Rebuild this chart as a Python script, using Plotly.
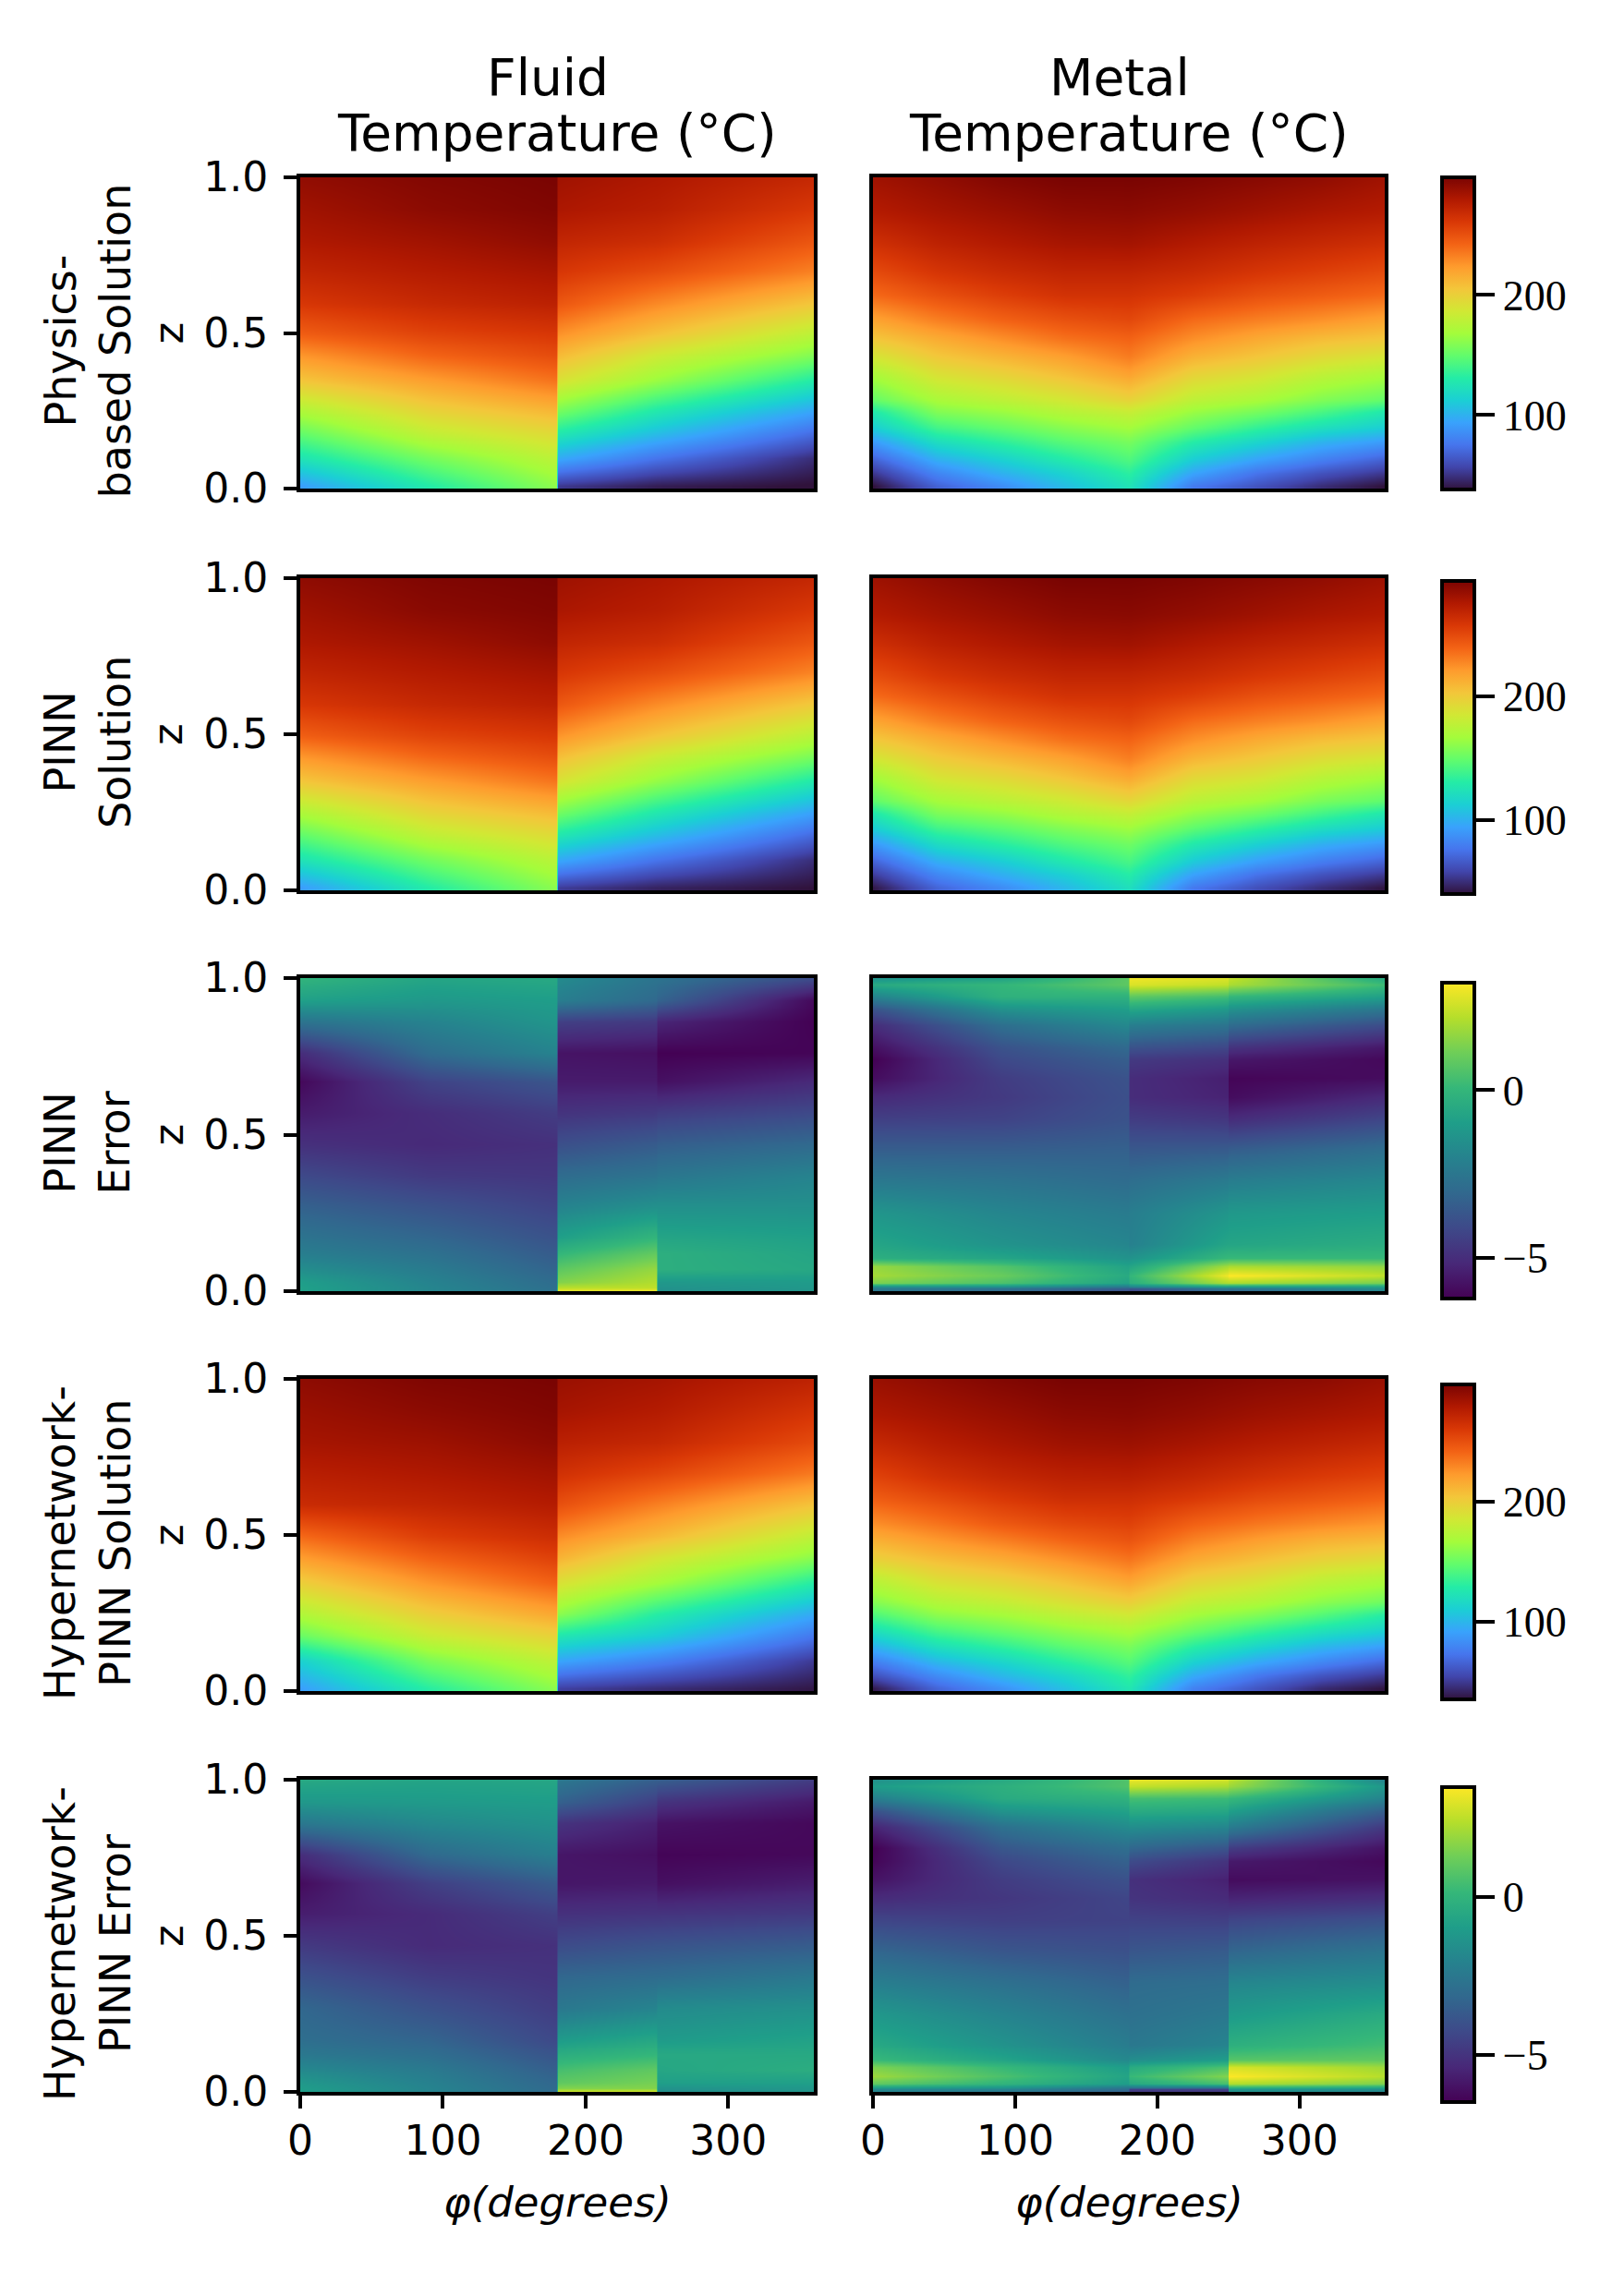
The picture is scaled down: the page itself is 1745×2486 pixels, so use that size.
import plotly.graph_objects as go

W, H = 1745, 2486

# ---- coordinates of the sampled values ----
PHI_FLUID = [0, 90, 179.5, 180.5, 250, 360]
Z_FLUID = [.995, .896, .796, .697, .597, .498, .428, .348, .249, .179, .099, .01]
PHI_METAL = [0, 45, 90, 135, 180, 225, 270, 315, 360]
Z_METAL = [.995, .886, .788, .69, .62, .542, .483, .424, .365, .286, .246, .197, .148, .089, .049, .01]
PHI_ERR = [0, 90, 179.5, 180.5, 249.5, 250.5, 360]
Z_FLUID_ERR = [0, .012, .03, .07, .12, .17, .27, .37, .47, .57, .67, .76, .86, .93, 1]
Z_METAL_ERR = [0, .008, .015, .028, .05, .08, .105, .15, .25, .35, .45, .55, .62, .68, .74, .78, .85, .9, .94, .98, 1]

# ---- solution values: one inner list per phi column, top (z~1) to bottom (z~0) ----
FLUID_PHYSICS = [
    [290, 285, 280, 272, 262, 245, 225, 205, 172, 150, 125, 92],
    [295, 292, 285, 278, 270, 256, 242, 222, 198, 180, 155, 130],
    [298, 296, 291, 283, 275, 262, 252, 237, 212, 195, 178, 162],
    [285, 281, 272, 262, 248, 227, 210, 190, 155, 128, 97, 52],
    [280, 276, 267, 252, 230, 207, 185, 165, 128, 105, 75, 42],
    [270, 261, 248, 232, 205, 178, 158, 130, 95, 72, 48, 37],
]
METAL_PHYSICS = [
    [285, 278, 266, 252, 240, 220, 205, 188, 170, 150, 128, 112, 90, 66, 52, 38],
    [290, 283, 274, 262, 250, 233, 217, 204, 190, 170, 158, 140, 120, 97, 82, 68],
    [295, 287, 279, 268, 258, 243, 228, 213, 198, 178, 165, 150, 133, 112, 100, 85],
    [298, 291, 283, 272, 264, 250, 238, 222, 208, 187, 175, 160, 146, 128, 115, 105],
    [298, 292, 284, 272, 264, 254, 243, 234, 220, 198, 182, 168, 155, 143, 133, 125],
    [296, 289, 279, 268, 258, 240, 228, 214, 198, 178, 165, 150, 130, 110, 95, 78],
    [293, 285, 274, 262, 250, 233, 218, 205, 190, 170, 155, 135, 115, 92, 75, 62],
    [290, 281, 270, 257, 245, 227, 210, 195, 178, 158, 142, 122, 100, 78, 62, 48],
    [285, 278, 266, 252, 240, 220, 205, 188, 170, 150, 128, 112, 90, 66, 52, 38],
]
FLUID_PINN = [
    [286, 281, 276, 268, 258, 241, 222, 202, 170, 148, 124, 92],
    [291, 288, 281, 274, 266, 252, 238, 219, 195, 177, 153, 130],
    [293, 291, 287, 279, 271, 258, 248, 233, 208, 192, 175, 160],
    [281, 277, 268, 258, 244, 223, 206, 187, 153, 127, 97, 55],
    [276, 272, 263, 248, 226, 203, 182, 162, 127, 105, 76, 46],
    [266, 257, 244, 228, 201, 175, 155, 128, 94, 72, 50, 40],
]
METAL_PINN = [
    [281, 274, 262, 248, 236, 216, 201, 185, 167, 148, 127, 111, 90, 68, 55, 42],
    [286, 279, 270, 258, 246, 229, 213, 200, 187, 167, 155, 138, 119, 97, 83, 70],
    [290, 283, 275, 264, 254, 239, 224, 209, 194, 175, 162, 147, 131, 110, 99, 85],
    [293, 287, 279, 268, 260, 246, 234, 218, 204, 183, 172, 157, 143, 126, 113, 103],
    [293, 288, 280, 268, 260, 250, 239, 230, 216, 194, 179, 165, 152, 140, 130, 122],
    [291, 285, 275, 264, 254, 236, 224, 210, 194, 175, 162, 147, 128, 109, 94, 78],
    [288, 281, 270, 258, 246, 229, 214, 201, 187, 167, 152, 133, 113, 91, 75, 62],
    [285, 277, 266, 253, 241, 223, 206, 191, 175, 155, 139, 120, 99, 78, 63, 50],
    [281, 274, 262, 248, 236, 216, 201, 185, 167, 148, 127, 111, 90, 68, 54, 41],
]
FLUID_HYPER = [
    [291, 287, 283, 276, 268, 240, 222, 200, 172, 150, 112, 90],
    [296, 292, 286, 280, 272, 258, 243, 225, 200, 182, 155, 130],
    [298, 296, 292, 285, 278, 267, 257, 243, 218, 198, 178, 160],
    [287, 283, 275, 265, 250, 228, 213, 190, 160, 125, 93, 52],
    [283, 278, 270, 255, 232, 210, 188, 168, 130, 110, 78, 45],
    [273, 263, 252, 234, 205, 178, 160, 130, 95, 74, 50, 37],
]
METAL_HYPER = [
    [287, 280, 269, 256, 245, 228, 213, 198, 178, 158, 142, 122, 100, 74, 58, 38],
    [291, 284, 276, 265, 253, 237, 223, 208, 193, 173, 160, 142, 122, 98, 82, 66],
    [295, 288, 281, 271, 261, 247, 232, 216, 200, 180, 167, 152, 134, 112, 100, 84],
    [298, 292, 285, 275, 267, 254, 241, 226, 210, 190, 177, 162, 147, 128, 115, 104],
    [298, 293, 286, 276, 267, 257, 248, 236, 222, 200, 185, 170, 156, 143, 133, 125],
    [296, 290, 282, 271, 261, 244, 231, 217, 201, 180, 167, 152, 132, 110, 95, 78],
    [293, 286, 277, 265, 253, 236, 221, 207, 192, 172, 157, 137, 116, 92, 74, 60],
    [291, 283, 273, 260, 248, 230, 213, 198, 180, 160, 144, 124, 102, 78, 60, 44],
    [287, 280, 269, 256, 243, 225, 209, 192, 173, 152, 130, 114, 92, 66, 50, 36],
]
# ---- error values: one inner list per phi column, bottom (z=0) to top (z=1) ----
FLUID_PINN_ERR = [
    [-.9, -.9, -1, -1.6, -2.2, -2.6, -3.3, -4.1, -4.9, -5.5, -6, -5, -2.6, -.9, -.1],
    [-1.9, -1.9, -2, -2.3, -2.7, -3.1, -3.8, -4.6, -5.1, -5, -4.3, -2.9, -2, -1.2, -.7],
    [-2.7, -2.8, -2.9, -3.2, -3.5, -3.8, -4.3, -4.7, -4.9, -4.5, -3.7, -2, -1.3, -1, -.55],
    [3, 2.2, 1.4, .8, 0, -.9, -2, -2.9, -3.9, -4.8, -5.5, -5.7, -4.4, -2.2, -1.7],
    [3.1, 2.3, 2.1, 1.7, .9, 0, -1.5, -2.6, -3.5, -4.6, -5.5, -5.8, -4.6, -3, -2.6],
    [-1.5, -1.4, -1.2, -.3, -.3, -.7, -1.5, -2.5, -3.4, -4.5, -5.8, -6.2, -5.2, -3.2, -2.6],
    [-1.3, -1.2, -1.1, -.6, -.7, -.9, -1.5, -2, -3, -4.1, -5.1, -6.1, -6.2, -6, -4],
]
METAL_PINN_ERR = [
    [-2.5, -2.3, -1.5, 1.3, 1.9, 1.7, -.3, -.7, -1.3, -2.4, -3.4, -4.4, -5.1, -5.9, -6.2, -5.8, -5, -3.8, -2, -.5, -1.4],
    [-3, -2.6, -1.5, .5, 1, .6, -.7, -1.4, -1.9, -2.6, -3.4, -4.3, -4.6, -4.5, -4.1, -3.8, -2.8, -1.5, -.2, 0, -.8],
    [-4, -3.4, -2.4, -.8, -.5, -.8, -1.4, -1.9, -2.3, -2.9, -3.3, -3.8, -3.9, -3.8, -3.4, -3, -1.8, -1, -.2, .8, .8],
    [-4.5, -3.6, -2, -.3, 0, -.7, -1.4, -2.1, -2.2, -2.8, -3.6, -4.5, -5, -5, -4.6, -3.8, -2.2, -.7, .8, 2.7, 3],
    [-3, -2.5, -1, 2, 3, 1.9, .1, -.7, -1.3, -2.3, -3.5, -4.7, -5.3, -5.4, -4.9, -4.2, -2.6, -1.2, .3, 2.3, 2.7],
    [-3.2, -2.6, -1.1, 2, 3.2, 2, .1, -.7, -1.2, -2.2, -3.4, -5, -5.9, -6.1, -5.6, -4.8, -2.9, -1.5, 0, 2, 2.4],
    [-2, -1.6, -.9, 1.2, 2.3, 1.6, .1, -.4, -1, -1.8, -2.8, -4.2, -5.1, -5.9, -6, -5.6, -4, -2.5, -.9, .2, -.5],
]
FLUID_HYPER_ERR = [
    [-.9, -1, -1.2, -1.8, -2.5, -2.9, -3.2, -4, -4.8, -5.7, -6.2, -5.2, -2.5, -1.2, -.5],
    [-2, -2, -2.1, -2.4, -2.9, -3.3, -4, -4.7, -5.3, -5.3, -4.6, -3.1, -1.8, -1.1, -.7],
    [-3, -3.1, -3.2, -3.5, -3.9, -4.3, -4.7, -5, -5.1, -4.6, -3.6, -2.2, -1.4, -1, -.6],
    [3, 1.6, 1, .5, -.3, -1.1, -2.5, -3.2, -4.2, -5.1, -5.9, -5.9, -5, -3.4, -2.5],
    [3, 1.6, 1.4, 1, .1, -.6, -2, -3, -3.9, -5, -5.8, -6.1, -5.6, -4.6, -3.5],
    [-1.6, -1.4, -.9, -.6, -.5, -1.1, -1.7, -3, -3.9, -5, -6.1, -6.4, -6, -5, -3.5],
    [-1.3, -1.2, -.9, -.3, -.5, -.8, -1.5, -2.5, -3.6, -4.8, -5.7, -6.3, -6.3, -5.8, -4.7],
]
METAL_HYPER_ERR = [
    [-2, -1.8, -.8, 1, 2, 1.5, .2, -.5, -1.2, -2.2, -3.2, -4.4, -5.3, -6, -6.4, -6.5, -5.5, -4, -2.2, -1, -1.5],
    [-2.6, -2, -1.2, 0, .6, .2, -.7, -1.4, -2, -2.8, -3.8, -4.6, -4.9, -4.7, -4.3, -3.8, -2.8, -1.4, -.4, -.2, -.5],
    [-3.5, -3, -2.4, -1, -.7, -1, -1.8, -2.3, -2.8, -3.4, -4, -4.5, -4.4, -4, -3.4, -2.9, -1.7, -.8, -.1, .7, .7],
    [-5, -4.5, -2.5, -.5, .2, -.4, -1.6, -2.5, -2.8, -3, -3.8, -4.5, -5, -5.1, -4.2, -3.2, -1.6, -.4, .5, 2.6, 3.2],
    [-5, -4.5, -2.5, .5, 1.6, .6, -1, -2, -2.5, -2.9, -3.6, -4.6, -5.3, -5.6, -5, -3.9, -1.9, -.6, .3, 2.2, 2.8],
    [-1.5, -1.3, 0, 2.3, 3.5, 2.9, .8, -.2, -1.1, -1.9, -3.2, -4.4, -5.5, -6.2, -5.8, -4.7, -2.3, -.9, .2, 2, 2.5],
    [-2, -1.5, -.5, 1.5, 2.4, 2, 1, .4, -.4, -1.6, -2.6, -4, -5.2, -6, -6.3, -6, -4.8, -3.5, -2, -1.2, -2],
]

# ---- labels ----
COLUMN_TITLES = [("Fluid", "Temperature (°C)"), ("Metal", "Temperature (°C)")]
ROW_LABELS = ["Physics-<br>based Solution", "PINN<br>Solution", "PINN<br>Error",
              "Hypernetwork-<br>PINN Solution", "Hypernetwork-<br>PINN Error"]
X_TICKS = [0, 100, 200, 300]
Y_TICKS = [0, 0.5, 1]
BAR_RANGES = [(38, 298), (40, 293), (-6.2, 3.2), (35, 298), (-6.5, 3.5)]
BAR_TICKS = [[100, 200], [100, 200], [-5, 0], [100, 200], [-5, 0]]

# ---- layout (pixels, measured inside the 8 px page margin) ----
COL_X = [(317, 873), (937, 1491)]
ROW_Y = [(184, 521), (618, 956), (1051, 1390), (1485, 1823), (1919, 2257)]
BAR_Y = [(184, 522), (621, 960), (1056, 1398), (1491, 1832), (1927, 2268)]
SANS, SERIF = "DejaVu Sans", "Liberation Serif"


def grid(cols):
    return [list(r) for r in zip(*cols)]


def topdown(cols):
    """Solution tables are listed top to bottom: flip them for the ascending z axis."""
    return grid(cols)[::-1]


panels = [
    (topdown(FLUID_PHYSICS), PHI_FLUID, Z_FLUID[::-1], topdown(METAL_PHYSICS), PHI_METAL, Z_METAL[::-1]),
    (topdown(FLUID_PINN), PHI_FLUID, Z_FLUID[::-1], topdown(METAL_PINN), PHI_METAL, Z_METAL[::-1]),
    (grid(FLUID_PINN_ERR), PHI_ERR, Z_FLUID_ERR, grid(METAL_PINN_ERR), PHI_ERR, Z_METAL_ERR),
    (topdown(FLUID_HYPER), PHI_FLUID, Z_FLUID[::-1], topdown(METAL_HYPER), PHI_METAL, Z_METAL[::-1]),
    (grid(FLUID_HYPER_ERR), PHI_ERR, Z_FLUID_ERR, grid(METAL_HYPER_ERR), PHI_ERR, Z_METAL_ERR),
]

fig = go.Figure()
layout = dict(
    width=W, height=H, margin=dict(l=0, r=0, t=0, b=0, autoexpand=False), autosize=False,
    paper_bgcolor="white", plot_bgcolor="white", showlegend=False,
    font=dict(family=SANS, size=44, color="black"),
)
annotations = []
n = 0
for r, (zf, xf, yf, zm, xm, ym) in enumerate(panels):
    ca = "coloraxis" if r == 0 else f"coloraxis{r + 1}"
    y0, y1 = ROW_Y[r]
    b0, b1 = BAR_Y[r]
    cmin, cmax = BAR_RANGES[r]
    layout[ca] = dict(
        cmin=cmin, cmax=cmax,
        colorscale="Turbo" if r not in (2, 4) else "Viridis",
        colorbar=dict(
            x=1553 / W, xanchor="left", xpad=0, ypad=0,
            y=1 - b0 / H, yanchor="top", len=b1 - b0, lenmode="pixels",
            thickness=35, thicknessmode="pixels",
            outlinewidth=4, outlinecolor="black",
            ticks="outside", ticklen=20, tickwidth=4, tickcolor="black",
            tickvals=BAR_TICKS[r], tickfont=dict(family=SERIF, size=46, color="black"),
        ),
    )
    for c, (z, x, y) in enumerate(((zf, xf, yf), (zm, xm, ym))):
        n += 1
        sfx = "" if n == 1 else str(n)
        fig.add_trace(go.Heatmap(
            x=x, y=y, z=z, coloraxis=ca, zsmooth="best",
            xaxis=f"x{sfx}", yaxis=f"y{sfx}", hoverinfo="skip",
        ))
        x0, x1 = COL_X[c]
        last = r == len(panels) - 1
        layout[f"xaxis{sfx}"] = dict(
            domain=[x0 / W, x1 / W], range=[0, 360], anchor=f"y{sfx}",
            showline=True, mirror=True, linecolor="black", linewidth=4,
            showgrid=False, zeroline=False,
            ticks="outside" if last else "", ticklen=14, tickwidth=4, tickcolor="black",
            tickvals=X_TICKS if last else [], showticklabels=last,
            ticklabelstandoff=-3,
            tickfont=dict(family=SANS, size=44, color="black"),
        )
        layout[f"yaxis{sfx}"] = dict(
            domain=[1 - y1 / H, 1 - y0 / H], range=[0, 1], anchor=f"x{sfx}",
            showline=True, mirror=True, linecolor="black", linewidth=4,
            showgrid=False, zeroline=False,
            ticks="outside" if c == 0 else "", ticklen=14, tickwidth=4, tickcolor="black",
            tickvals=Y_TICKS if c == 0 else [], tickformat=".1f", showticklabels=c == 0,
            ticklabelstandoff=8,
            tickfont=dict(family=SANS, size=44, color="black"),
        )
    annotations.append(dict(
        text=ROW_LABELS[r], x=87 / W, y=1 - ((y0 + y1) / 2 + 9) / H, xref="paper", yref="paper",
        showarrow=False, textangle=-90, font=dict(family=SANS, size=46, color="black"),
        xanchor="center", yanchor="middle", align="center",
    ))
    annotations.append(dict(
        text="z", x=174 / W, y=1 - (y0 + y1) / 2 / H, xref="paper", yref="paper",
        showarrow=False, textangle=-90, font=dict(family=SANS, size=45, color="black"),
        xanchor="center", yanchor="middle",
    ))

for c, (line1, line2) in enumerate(COLUMN_TITLES):
    x0, x1 = COL_X[c]
    for text, ypx, dx in ((line1, 76, -10), (line2, 136, 0)):
        annotations.append(dict(
            text=text, x=((x0 + x1) / 2 + dx) / W, y=1 - ypx / H, xref="paper", yref="paper",
            showarrow=False, font=dict(family=SANS, size=55, color="black"),
            xanchor="center", yanchor="middle",
        ))
    annotations.append(dict(
        text="<i>φ(degrees)</i>", x=(x0 + x1) / 2 / W, y=1 - 2376 / H, xref="paper", yref="paper",
        showarrow=False, font=dict(family=SANS, size=45, color="black"),
        xanchor="center", yanchor="middle",
    ))

layout["annotations"] = annotations
fig.update_layout(**layout)
fig.write_html("out.html")
